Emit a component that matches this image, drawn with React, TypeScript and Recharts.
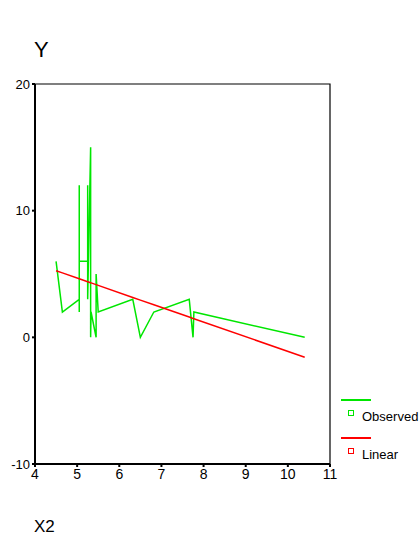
import { ComposedChart, Line, XAxis, YAxis, ReferenceArea } from 'recharts'

// x values of the cases, in the order the line passes through them
const xValues = [4.5, 4.65, 5.05, 5.05, 5.05, 5.05, 5.25, 5.25, 5.25, 5.32, 5.32, 5.33, 5.45, 5.45, 5.5, 6.32, 6.5, 6.82, 7.66, 7.75, 7.77, 10.4]
const observed = [6, 2, 3, 12, 2, 6, 6, 12, 3, 15, 0, 2, 0, 5, 2, 3, 0, 2, 3, 0, 2, 0]
const linear = [5.26, 5.09, 4.62, 4.62, 4.62, 4.62, 4.39, 4.39, 4.39, 4.31, 4.31, 4.3, 4.16, 4.16, 4.1, 3.15, 2.94, 2.57, 1.6, 1.49, 1.47, -1.57]

const xTicks = [4, 5, 6, 7, 8, 9, 10, 11]
const yTicks = [-10, 0, 10, 20]

const FONT = '"Liberation Sans", Arial, sans-serif'
const GREEN = '#00e600'
const RED = '#ff0000'

const data = xValues.map((x, i) => ({ x, observed: observed[i], linear: linear[i] }))

const legendItems = [
  { label: 'Observed', color: GREEN },
  { label: 'Linear', color: RED },
]

function LegendBox() {
  return (
    <div style={{ position: 'absolute', left: 341, top: 392, fontFamily: FONT, fontSize: 13, color: '#000' }}>
      {legendItems.map((it) => (
        <div key={it.label} style={{ height: 38, position: 'relative', width: 80 }}>
          <div style={{ position: 'absolute', left: 0, top: 7, width: 30, height: 1.5, background: it.color }} />
          <div
            style={{
              position: 'absolute',
              left: 7,
              top: 18,
              width: 4,
              height: 4,
              border: `1.5px solid ${it.color}`,
            }}
          />
          <div style={{ position: 'absolute', left: 21, top: 17 }}>{it.label}</div>
        </div>
      ))}
    </div>
  )
}

export default function App() {
  return (
    <div style={{ position: 'relative', width: 419, height: 535, background: '#fff', fontFamily: FONT }}>
      <style>{'body{margin:0}'}</style>
      <div style={{ position: 'absolute', left: 34, top: 37, fontSize: 22, color: '#000' }}>Y</div>
      <div style={{ position: 'absolute', left: 34, top: 517, fontSize: 17, color: '#000' }}>X2</div>
      <ComposedChart width={419} height={535} data={data} margin={{ top: 84, right: 89, left: 0, bottom: 0 }}>
        <XAxis
          type="number"
          dataKey="x"
          domain={[4, 11]}
          ticks={xTicks}
          height={71}
          tickSize={3}
          tickLine={{ stroke: '#000', strokeWidth: 2 }}
          axisLine={{ stroke: '#000', strokeWidth: 2 }}
          tick={{ fill: '#000', fontSize: 14, fontFamily: FONT }}
          interval={0}
        />
        <YAxis
          type="number"
          domain={[-10, 20]}
          ticks={yTicks}
          width={35}
          tickSize={3}
          tickLine={{ stroke: '#000', strokeWidth: 2 }}
          axisLine={{ stroke: '#000', strokeWidth: 2 }}
          tick={{ fill: '#000', fontSize: 13, fontFamily: FONT }}
          interval={0}
        />
        <ReferenceArea x1={4} x2={11} y1={-10} y2={20} fill="none" stroke="#000" strokeWidth={1.2} ifOverflow="visible" />
        <Line dataKey="observed" stroke={GREEN} strokeWidth={1.5} dot={false} isAnimationActive={false} type="linear" />
        <Line dataKey="linear" stroke={RED} strokeWidth={1.5} dot={false} isAnimationActive={false} type="linear" />
      </ComposedChart>
      <LegendBox />
    </div>
  )
}
